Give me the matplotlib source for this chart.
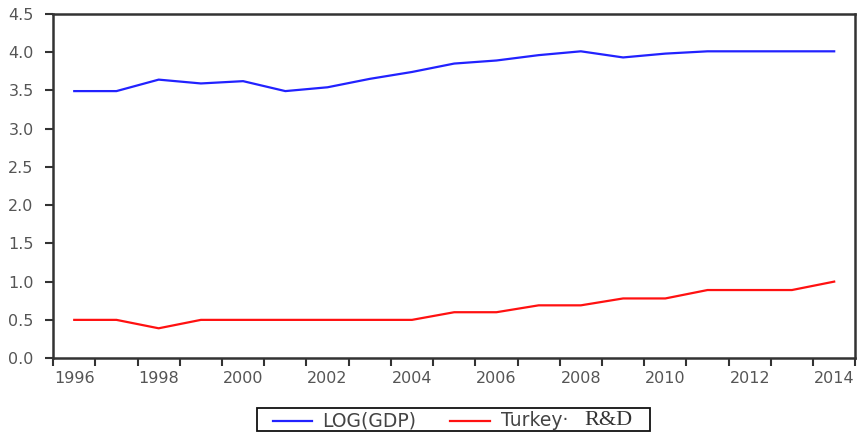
import matplotlib
matplotlib.use("Agg")
import matplotlib.pyplot as plt
from matplotlib.lines import Line2D
from matplotlib.patches import Rectangle

plt.rcParams['font.family'] = ['DejaVu Sans']

years = list(range(1996, 2015))
log_gdp = [3.49, 3.49, 3.64, 3.59, 3.62, 3.49, 3.54, 3.65, 3.74, 3.85,
           3.89, 3.96, 4.01, 3.93, 3.98, 4.01, 4.01, 4.01, 4.01]
turkey_rd = [0.50, 0.50, 0.39, 0.50, 0.50, 0.50, 0.50, 0.50, 0.50, 0.60,
             0.60, 0.69, 0.69, 0.78, 0.78, 0.89, 0.89, 0.89, 1.00]
year_labels = [str(y) for y in range(1996, 2015, 2)]

blue = '#2222ff'
red = '#ff1111'

fig = plt.figure(figsize=(8.57, 4.32), dpi=100)
ax = fig.add_axes([0.062, 0.171, 0.936, 0.797])

ax.plot(years, log_gdp, color=blue, lw=1.6)
ax.plot(years, turkey_rd, color=red, lw=1.6)

ax.set_xlim(1995.5, 2014.5)
ax.set_ylim(0, 4.5)
ax.set_yticks([i * 0.5 for i in range(10)])
ax.set_yticklabels(['%.1f' % (i * 0.5) for i in range(10)])

# labels centred on the years, tick marks on year boundaries
ax.set_xticks(range(1996, 2015, 2))
ax.set_xticklabels(year_labels)
ax.set_xticks([y + 0.5 for y in range(1995, 2015)], minor=True)
ax.tick_params(axis='x', which='major', length=0, labelsize=11.5, labelcolor='#555555', pad=9)
ax.tick_params(axis='x', which='minor', length=6, width=1.5, color='#333333', direction='out')
ax.tick_params(axis='y', length=6, width=1.5, color='#333333', labelsize=11.5,
               labelcolor='#555555', pad=8)

for s in ax.spines.values():
    s.set_linewidth(1.8)
    s.set_color('#333333')

# legend drawn by hand so "R&D" can use a serif face like the original
W, H = fig.bbox.width, fig.bbox.height
fig.add_artist(Rectangle((257 / W, 1 / H), 393 / W, 23 / H, transform=fig.transFigure,
                         fill=False, edgecolor='#111111', lw=1.3))
ly = 0.0255
fig.add_artist(Line2D([273 / W, 312 / W], [ly, ly], color=blue, lw=1.6,
                      transform=fig.transFigure))
fig.text(322 / W, ly, 'LOG(GDP)', fontsize=13.5, color='#444444', va='center')
fig.add_artist(Line2D([450 / W, 490 / W], [ly, ly], color=red, lw=1.6,
                      transform=fig.transFigure))
fig.text(501 / W, ly, 'Turkey\u00b7', fontsize=13.5, color='#444444', va='center')
fig.text(584 / W, ly + 0.002, 'R&D', family='Liberation Serif', fontsize=16,
         color='#333333', va='center')

fig.savefig('out.png', dpi=100)
